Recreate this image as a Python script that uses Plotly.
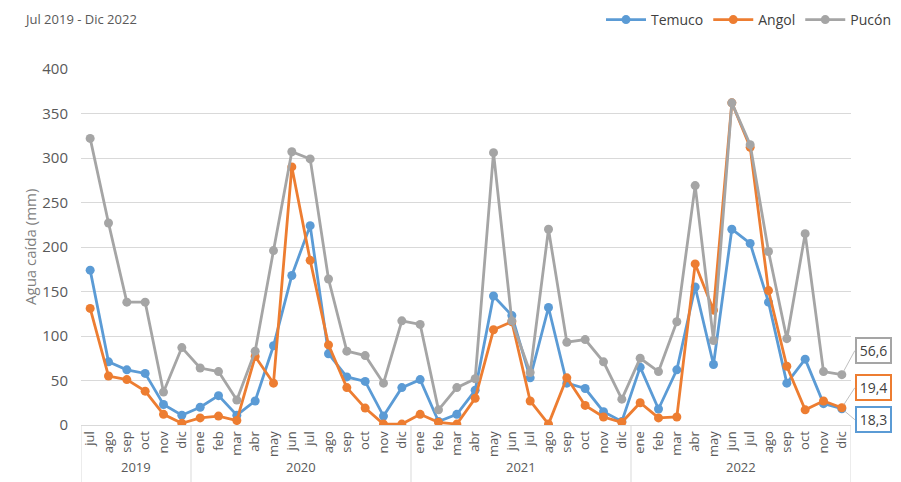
import plotly.graph_objects as go

years = ["2019"] * 6 + ["2020"] * 12 + ["2021"] * 12 + ["2022"] * 12
months_all = ["ene", "feb", "mar", "abr", "may", "jun", "jul", "ago", "sep", "oct", "nov", "dic"]
months = months_all[6:] + months_all * 3
year_labels = ["2019", "2020", "2021", "2022"]

temuco = [174, 71, 62, 58, 23, 11,
          20, 33, 11, 27, 89, 168, 224, 80, 54, 49, 10, 42,
          51, 4, 12, 39, 145, 123, 53, 132, 47, 41, 15, 4,
          65, 18, 62, 155, 68, 220, 204, 138, 47, 74, 24, 18.3]
angol = [131, 55, 51, 38, 12, 2,
         8, 10, 5, 77, 47, 290, 185, 90, 42, 19, 1, 1,
         12, 3, 1, 30, 107, 116, 27, 1, 53, 22, 9, 3,
         25, 8, 9, 181, 129, 362, 312, 151, 66, 17, 27, 19.4]
pucon = [322, 227, 138, 138, 37, 87,
         64, 60, 28, 83, 196, 307, 299, 164, 83, 78, 47, 117,
         113, 17, 42, 52, 306, 117, 59, 220, 93, 96, 71, 29,
         75, 60, 116, 269, 95, 362, 315, 195, 97, 215, 60, 56.6]

last_labels = ["18,3", "19,4", "56,6"]

colors = {"Temuco": "#5B9BD5", "Angol": "#ED7D31", "Pucón": "#A5A5A5"}
idx = list(range(len(months)))

# page has an 8px body margin; figure occupies page x 8..901, y 8..482
W, H = 893, 474
ML, MR, MT, MB = 73, 50, 61, 57
PW = W - ML - MR
PH = H - MT - MB


def px_to_paper_x(page_x):
    return (page_x - 8 - ML) / PW


def px_to_paper_y(page_y):
    return (H - MB - (page_y - 8)) / PH


fig = go.Figure()
for name, vals in [("Temuco", temuco), ("Angol", angol), ("Pucón", pucon)]:
    fig.add_trace(go.Scatter(
        x=idx, y=vals, name=name, mode="lines+markers",
        line=dict(color=colors[name], width=2.8),
        marker=dict(color=colors[name], size=9),
    ))

last_i = len(months) - 1
for name, vals, lab, ax_, ay_ in [
    ("Pucón", pucon, last_labels[2], 13, -24),
    ("Angol", angol, last_labels[1], 13, -20),
    ("Temuco", temuco, last_labels[0], 13, 11),
]:
    fig.add_annotation(
        x=last_i, y=vals[-1], xref="x", yref="y",
        text=lab, showarrow=True, arrowhead=0, arrowwidth=1, arrowcolor="#BFBFBF",
        ax=ax_, ay=ay_, xanchor="left", yanchor="middle", standoff=4,
        width=31, height=21, align="center",
        bordercolor=colors[name], borderwidth=2, borderpad=1, bgcolor="white",
        font=dict(size=14, color="#404040"),
    )

# year group labels and dividers
bounds = []
start = 0
for y in year_labels:
    n = years.count(y)
    bounds.append((start, start + n - 1))
    start += n
for (a, b), y in zip(bounds, year_labels):
    fig.add_annotation(x=(a + b) / 2, y=px_to_paper_y(467), xref="x", yref="paper", text=y,
                       showarrow=False, yanchor="middle",
                       font=dict(size=13, color="#595959"))
divs = [-0.5] + [b + 0.5 for (a, b) in bounds]
for d in divs:
    fig.add_shape(type="line", x0=d, x1=d, y0=0, y1=px_to_paper_y(490), xref="x", yref="paper",
                  line=dict(color="#D9D9D9", width=1))

fig.add_annotation(
    x=px_to_paper_x(22), y=px_to_paper_y(8), xref="paper", yref="paper",
    xanchor="left", yanchor="top",
    text="Jul 2019 - Dic 2022", showarrow=False,
    font=dict(size=13, color="#595959"),
)
fig.add_annotation(
    x=px_to_paper_x(18), y=0.5, xref="paper", yref="paper", text="Agua caída (mm)", textangle=-90,
    showarrow=False, font=dict(size=15, color="#7F7F7F"),
)

fig.update_layout(
    width=W, height=H,
    margin=dict(l=ML, r=MR, t=MT, b=MB, autoexpand=False),
    paper_bgcolor="white", plot_bgcolor="white",
    font=dict(family="Open Sans, Noto Sans, sans-serif", color="#595959"),
    legend=dict(orientation="h", x=px_to_paper_x(896), xanchor="right",
                y=px_to_paper_y(20), yanchor="middle",
                font=dict(size=14, color="#404040"), itemwidth=40, tracegroupgap=0),
    showlegend=True,
)
fig.update_yaxes(
    range=[0, 400], dtick=50, showgrid=True, gridcolor="#D9D9D9", gridwidth=1,
    zeroline=False, showline=False, ticks="", automargin=False,
    ticklabelstandoff=12,
    tickfont=dict(size=15, color="#595959"),
)
fig.update_xaxes(
    range=[-0.5, len(months) - 0.5], tickmode="array", tickvals=idx, ticktext=months,
    showline=True, linecolor="#D9D9D9", showgrid=False, zeroline=False,
    tickangle=-90, tickfont=dict(size=13, color="#595959"), ticks="", automargin=False,
)

fig.write_html("out.html")
